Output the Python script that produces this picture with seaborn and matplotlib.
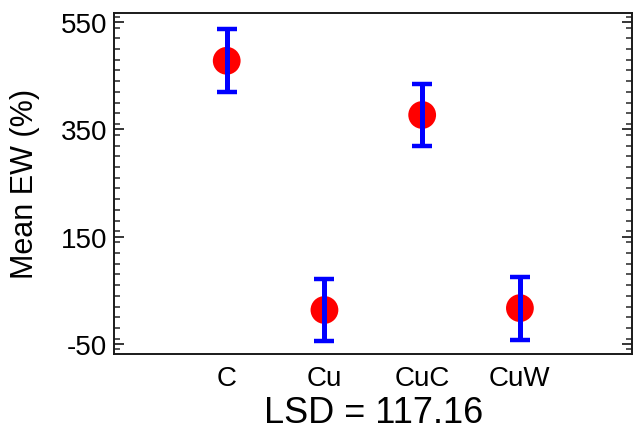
import matplotlib
matplotlib.use("Agg")
import matplotlib.pyplot as plt
import seaborn as sns
import pandas as pd
from matplotlib.ticker import MultipleLocator

categories = ["C", "Cu", "CuC", "CuW"]
means = [478.0, 13.5, 377.0, 17.0]
lsd = 117.16
half_interval = [lsd / 2] * len(categories)
yticks = [-50, 150, 350, 550]

sns.set_theme(style="white")
plt.rcParams["font.family"] = ["Liberation Sans", "DejaVu Sans"]
plt.rcParams["axes.unicode_minus"] = False

df = pd.DataFrame({"group": categories, "mean": means, "err": half_interval})

fig = plt.figure(figsize=(6.33, 4.39), dpi=100)
ax = fig.add_axes([0.1806, 0.192, 0.8183, 0.776])

sns.scatterplot(data=df, x="group", y="mean", ax=ax, s=400, color="#ff0000",
                edgecolor="none", linewidth=0, zorder=2, legend=False)
ax.errorbar(x=range(len(categories)), y=df["mean"], yerr=df["err"], fmt="none",
            ecolor="#0000ff", elinewidth=3.6, capsize=7.5, capthick=3.2, zorder=3)

ax.set_xlim(-1.15, 4.15)
ax.set_ylim(-68, 567)
ax.set_xticks(range(len(categories)))
ax.set_xticklabels(categories)
ax.set_yticks(yticks)
ax.yaxis.set_minor_locator(MultipleLocator(20))

ax.tick_params(axis="x", which="both", length=0, pad=8, labelsize=20, colors="black")
ax.tick_params(axis="y", which="major", direction="in", length=7.2, width=1.1,
               left=True, right=True, labelsize=20, pad=5, colors="black")
ax.tick_params(axis="y", which="minor", direction="in", length=4, width=1.1,
               left=True, right=True)

for sp in ax.spines.values():
    sp.set_color("#1a1a1a")
    sp.set_linewidth(1.4)

ax.set_xlabel("LSD = 117.16", fontsize=26, labelpad=3, color="black")
ax.set_ylabel("Mean EW (%)", fontsize=22, labelpad=15, color="black")

fig.savefig("out.png", dpi=100)
